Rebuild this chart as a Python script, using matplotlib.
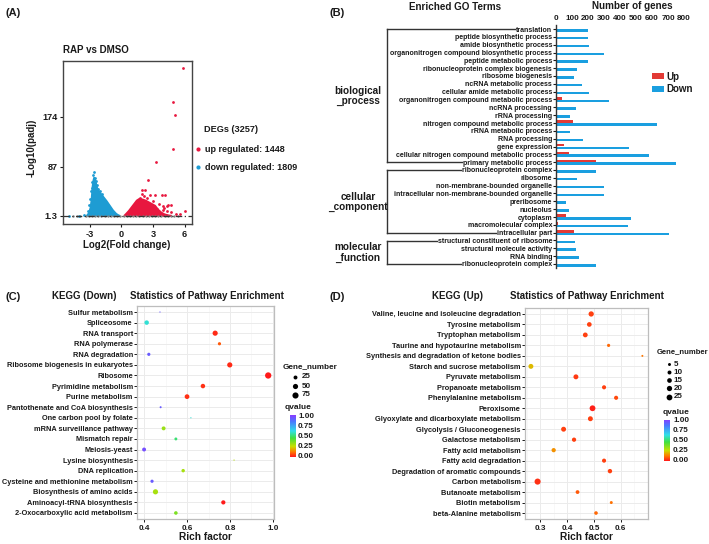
import numpy as np
import matplotlib
matplotlib.use('Agg')
import matplotlib.pyplot as plt
from matplotlib.colors import LinearSegmentedColormap
from matplotlib.patches import Polygon, Rectangle
from matplotlib.lines import Line2D

plt.rcParams['font.family'] = ['Liberation Sans', 'DejaVu Sans']
plt.rcParams['font.weight'] = 'bold'

# ---------------- DATA ----------------
# (A) volcano: dense clouds as outlines, plus individual points
down_cloud_x = [-3.3, -3.1, -2.95, -2.85, -2.8, -2.75, -2.68, -2.6, -2.5, -2.4, -2.3, -2.15,
                -2.0, -1.7, -1.4, -1.1, -0.8, -0.5, -0.3, -0.15]
down_cloud_y = [1.3, 6, 15, 28, 40, 52, 62, 68, 64, 57, 50, 45, 41, 34, 27, 19, 11, 5, 2.5, 1.3]
up_cloud_x = [0.25, 0.45, 0.7, 0.95, 1.2, 1.45, 1.7, 2.0, 2.3, 2.6, 2.9, 3.2, 3.5, 3.8, 4.1, 4.5, 4.8]
up_cloud_y = [1.3, 5, 10, 16, 22, 28, 31, 30, 28, 25, 22, 19, 12, 7, 4, 2, 1.3]
down_x = [-2.62, -2.7, -2.55, -2.75, -2.45, -2.9, -3.0, -2.35, -2.2, -3.1, -5.0, -3.6, -4.0,
          -2.0, -1.8, -2.8, -2.5, -3.2, -2.65]
down_y = [78, 72, 68, 60, 62, 45, 30, 55, 48, 20, 1.3, 2.0, 1.5, 44, 39, 50, 58, 10, 66]
up_x = [5.87, 4.86, 5.11, 4.86, 3.27, 2.54, 1.94, 1.94, 2.26, 2.68, 3.23, 3.81, 4.46, 3.91,
        3.97, 3.39, 6.05, 4.7, 5.2, 4.3, 2.1, 1.8, 2.45, 3.0, 3.6, 4.0, 5.6, 4.12, 4.73, 4.29]
up_y = [258, 199, 177, 117, 95, 64, 46, 39, 47, 38, 38, 37, 20, 19, 12, 12.3, 9, 8, 5, 9,
        35, 33, 33, 27, 22, 15, 4, 38, 20, 18]
ns_x = [-4.6, -4.2, -3.9, -3.4, -3.1, -2.8, -2.5, -2.2, -1.9, -1.6, -1.3, -1.0, -0.7, -0.4,
        -0.1, 0.2, 0.5, 0.8, 1.1, 1.4, 1.7, 2.0, 2.3, 2.6, 2.9, 3.2, 3.5, 3.8, 4.1, 4.4, 4.7,
        5.0, 5.4]
ns_y = [0.5, 0.8, 0.3, 1.0, 0.6, 0.9, 0.4, 1.1, 0.7, 0.2, 0.9, 0.5, 1.0, 0.3, 0.8, 0.6, 1.1,
        0.4, 0.9, 0.2, 0.7, 1.0, 0.5, 0.8, 0.3, 1.1, 0.6, 0.4, 0.9, 0.7, 0.5, 0.3, 0.8]
volcano_xticks = [-3, 0, 3, 6]
volcano_yticks = [1.3, 87, 174]
volcano_yticklabels = ['1.3', '87', '174']
n_up, n_down = 1448, 1809

# (B) GO enrichment
go_terms = ['translation', 'peptide biosynthetic process', 'amide biosynthetic process',
            'organonitrogen compound biosynthetic process', 'peptide metabolic process',
            'ribonucleoprotein complex biogenesis', 'ribosome biogenesis',
            'ncRNA metabolic process', 'cellular amide metabolic process',
            'organonitrogen compound metabolic process', 'ncRNA processing', 'rRNA processing',
            'nitrogen compound metabolic process', 'rRNA metabolic process', 'RNA processing',
            'gene expression', 'cellular nitrogen compound metabolic process',
            'primary metabolic process',
            'ribonucleoprotein complex', 'ribosome', 'non-membrane-bounded organelle',
            'intracellular non-membrane-bounded organelle', 'preribosome', 'nucleolus',
            'cytoplasm', 'macromolecular complex', 'intracellular part',
            'structural constituent of ribosome', 'structural molecule activity',
            'RNA binding', 'ribonucleoprotein complex']
go_down = [198, 198, 205, 303, 200, 132, 115, 160, 207, 333, 124, 85, 629, 85, 166, 459, 582,
           749, 252, 130, 299, 299, 60, 79, 471, 448, 704, 117, 128, 143, 252]
go_up = [0, 0, 0, 5, 0, 0, 0, 0, 0, 36, 0, 0, 105, 0, 0, 49, 81, 252,
         0, 0, 0, 0, 0, 0, 62, 13, 111, 0, 0, 0, 0]
go_groups = [('biological\n_process', 0, 17), ('cellular\n_component', 18, 26),
             ('molecular\n_function', 27, 30)]
go_xticks = [0, 100, 200, 300, 400, 500, 600, 700, 800]

# (C) KEGG down
kc_terms = ['Sulfur metabolism', 'Spliceosome', 'RNA transport', 'RNA polymerase',
            'RNA degradation', 'Ribosome biogenesis in eukaryotes', 'Ribosome',
            'Pyrimidine metabolism', 'Purine metabolism', 'Pantothenate and CoA biosynthesis',
            'One carbon pool by folate', 'mRNA surveillance pathway', 'Mismatch repair',
            'Meiosis-yeast', 'Lysine biosynthesis', 'DNA replication',
            'Cysteine and methionine metabolism', 'Biosynthesis of amino acids',
            'Aminoacyl-tRNA biosynthesis', '2-Oxocarboxylic acid metabolism']
kc_rich = [0.474, 0.412, 0.731, 0.751, 0.422, 0.799, 0.978, 0.674, 0.600, 0.477, 0.618, 0.491,
           0.548, 0.400, 0.819, 0.582, 0.437, 0.453, 0.769, 0.548]
kc_q = [0.92, 0.60, 0.02, 0.08, 0.92, 0.02, 0.0, 0.03, 0.03, 0.92, 0.60, 0.32, 0.50, 0.95,
        0.28, 0.30, 0.92, 0.30, 0.0, 0.36]
kc_count = [3, 35, 50, 15, 15, 50, 80, 35, 40, 5, 3, 25, 12, 25, 3, 18, 15, 50, 30, 20]
kc_xticks = [0.4, 0.6, 0.8, 1.0]
kc_size_breaks = [25, 50, 75]

# (D) KEGG up
kd_terms = ['Valine, leucine and isoleucine degradation', 'Tyrosine metabolism',
            'Tryptophan metabolism', 'Taurine and hypotaurine metabolism',
            'Synthesis and degradation of ketone bodies', 'Starch and sucrose metabolism',
            'Pyruvate metabolism', 'Propanoate metabolism', 'Phenylalanine metabolism',
            'Peroxisome', 'Glyoxylate and dicarboxylate metabolism',
            'Glycolysis / Gluconeogenesis', 'Galactose metabolism', 'Fatty acid metabolism',
            'Fatty acid degradation', 'Degradation of aromatic compounds', 'Carbon metabolism',
            'Butanoate metabolism', 'Biotin metabolism', 'beta-Alanine metabolism']
kd_rich = [0.490, 0.483, 0.468, 0.555, 0.681, 0.265, 0.433, 0.538, 0.583, 0.495, 0.487, 0.387,
           0.426, 0.350, 0.538, 0.560, 0.290, 0.439, 0.565, 0.508]
kd_q = [0.05, 0.05, 0.05, 0.10, 0.12, 0.20, 0.04, 0.05, 0.06, 0.01, 0.05, 0.05, 0.05, 0.15,
        0.05, 0.05, 0.03, 0.08, 0.11, 0.10]
kd_count = [20, 15, 16, 6, 2, 17, 17, 11, 11, 25, 17, 17, 12, 12, 11, 13, 28, 9, 5, 8]
kd_xticks = [0.3, 0.4, 0.5, 0.6]
kd_size_breaks = [5, 10, 15, 20, 25]

# ---------------- STYLE / LAYOUT ----------------
W, H = 709, 544
fig = plt.figure(figsize=(W / 100, H / 100), dpi=100)

def fx(px): return px / W
def fy(py): return 1 - py / H
def box(l, t, r, b): return [fx(l), fy(b), (r - l) / W, (b - t) / H]

RED_V = '#E8173F'
BLUE_V = '#1E9CD3'
RED_B = '#E23A35'
BLUE_B = '#1A9FE0'
GRID = '#EBEBEB'
cmap = LinearSegmentedColormap.from_list('q', [
    (0.0, '#FF1A1A'), (0.12, '#FF7A00'), (0.25, '#C8E000'), (0.45, '#40E040'),
    (0.62, '#30E0E8'), (0.85, '#4A78FF'), (1.0, '#8A3CFF')])

def size_pts(counts, nmin, nmax, dmin, dmax):
    c = np.asarray(counts, float)
    d = dmin + (dmax - dmin) * np.sqrt(np.clip((c - nmin) / (nmax - nmin), 0, 1))
    return (d * 0.72) ** 2

# overlay in pixel coordinates for legends / decorations
ov = fig.add_axes([0, 0, 1, 1], zorder=10)
ov.set_xlim(0, W); ov.set_ylim(H, 0); ov.axis('off'); ov.patch.set_alpha(0)

def T(x, y, s, size, **kw):
    kw.setdefault('ha', 'left'); kw.setdefault('va', 'center')
    ov.text(x, y, s, fontsize=size, fontweight='bold', color='#1A1A1A', **kw)

# panel letters
T(6, 13, '(A)', 8)
T(329, 13, '(B)', 8)
T(6, 297, '(C)', 8)
T(329, 297, '(D)', 8)

# ---------------- (A) ----------------
axA = fig.add_axes(box(63, 61, 192, 224))
axA.add_patch(Polygon(list(zip(down_cloud_x, down_cloud_y)), closed=True, fc=BLUE_V,
                      ec=BLUE_V, lw=1.2, zorder=2))
axA.add_patch(Polygon(list(zip(up_cloud_x, up_cloud_y)), closed=True, fc=RED_V,
                      ec=RED_V, lw=1.2, zorder=2))
axA.scatter(ns_x, ns_y, s=3, c='#808080', lw=0, zorder=2)
axA.scatter(down_x, down_y, s=4, c=BLUE_V, lw=0, zorder=3)
axA.scatter(up_x, up_y, s=4, c=RED_V, lw=0, zorder=3)
axA.axhline(1.3, color='#333333', lw=0.9, ls=(0, (5, 2, 1, 2)), zorder=4)
axA.set_xlim(-5.55, 6.7)
axA.set_ylim(-13, 271)
axA.set_xticks(volcano_xticks)
axA.set_xticklabels([str(v) for v in volcano_xticks])
axA.set_yticks(volcano_yticks)
axA.set_yticklabels(volcano_yticklabels)
for s in axA.spines.values():
    s.set_color('#444444'); s.set_linewidth(1.0)
axA.tick_params(length=2.5, width=0.8, labelsize=6.6, pad=1.5, colors='#1A1A1A')
T(63, 50, 'RAP vs DMSO', 7)
T(32, 148, '-Log10(padj)', 7, ha='center', rotation=90)
T(127, 245, 'Log2(Fold change)', 7, ha='center')
T(204, 130, 'DEGs (3257)', 6.6)
ov.scatter([197.7], [149], s=9, c=RED_V, lw=0)
ov.scatter([197.7], [166.7], s=9, c=BLUE_V, lw=0)
T(205, 149, f'up regulated: {n_up}', 6.5)
T(205, 167, f'down regulated: {n_down}', 6.5)

# ---------------- (B) ----------------
nB = len(go_terms)
row0, rowN = 29.0, 264.0
step = (rowN - row0) / (nB - 1)
axB = fig.add_axes(box(556, row0 - step / 2, 684, rowN + step / 2))
yB = np.arange(nB)
axB.barh(yB - 0.165, go_up, height=0.33, color=RED_B, lw=0)
axB.barh(yB + 0.165, go_down, height=0.33, color=BLUE_B, lw=0)
axB.set_ylim(nB - 0.5, -0.5)
axB.set_xlim(0, 800)
axB.xaxis.tick_top()
axB.set_xticks(go_xticks)
axB.set_xticklabels([str(v) for v in go_xticks])
axB.tick_params(axis='x', length=0, labelsize=5.8, pad=2.5, colors='#1A1A1A')
axB.set_yticks(yB)
axB.set_yticklabels(go_terms)
axB.tick_params(axis='y', length=2, width=0.8, labelsize=5.0, pad=0.8, colors='#1A1A1A')
for k in ['top', 'right', 'bottom']:
    axB.spines[k].set_visible(False)
axB.spines['left'].set_color('#333333'); axB.spines['left'].set_linewidth(1.0)
axB.patch.set_alpha(0)
T(455, 7.5, 'Enriched GO Terms', 7.1, ha='center')
T(632, 5.8, 'Number of genes', 7.1, ha='center')
ov.add_patch(Rectangle((651.7, 73.3), 12.3, 5.4, fc=RED_B, lw=0))
ov.add_patch(Rectangle((651.7, 86.0), 12.3, 5.6, fc=BLUE_B, lw=0))
T(666.5, 76.5, 'Up', 7)
T(666.5, 89, 'Down', 7)

# ---------------- (C) / (D) ----------------
def kegg_panel(rect, terms, rich, q, counts, xlim, xticks, minor, nmin, nmax, dmin, dmax):
    ax = fig.add_axes(rect)
    n = len(terms)
    y = np.arange(n)
    ax.set_axisbelow(True)
    ax.scatter(rich, y, s=size_pts(counts, nmin, nmax, dmin, dmax), c=q, cmap=cmap,
               vmin=0, vmax=1, lw=0, zorder=3)
    ax.set_ylim(n - 1 + 0.57, -0.57)
    ax.set_xlim(*xlim)
    ax.set_xticks(xticks)
    ax.set_xticklabels([f'{v:.1f}' for v in xticks])
    ax.set_xticks(minor, minor=True)
    ax.set_yticks(y)
    ax.set_yticklabels(terms)
    ax.grid(True, which='major', color=GRID, lw=0.7)
    ax.grid(True, which='minor', axis='x', color='#F4F4F4', lw=0.4)
    ax.tick_params(which='minor', length=0)
    ax.tick_params(axis='y', length=2, width=0.7, labelsize=5.35, pad=1, colors='#1A1A1A')
    ax.tick_params(axis='x', length=2, width=0.7, labelsize=5.9, pad=2, colors='#1A1A1A')
    for s in ax.spines.values():
        s.set_color('#BDBDBD'); s.set_linewidth(0.9)
    return ax

def cbar(l, t, r, b):
    cax = fig.add_axes(box(l, t, r, b))
    cax.imshow(np.linspace(1, 0, 200)[:, None], aspect='auto', cmap=cmap, vmin=0, vmax=1,
               extent=[0, 1, 0, 1])
    cax.set_xticks([]); cax.set_yticks([])
    for s in cax.spines.values():
        s.set_visible(False)
    return cax

kegg_panel(box(137, 306, 274, 519), kc_terms, kc_rich, kc_q, kc_count,
           (0.367, 1.005), kc_xticks, [0.5, 0.7, 0.9], 3, 80, 1.2, 6.3)
T(205.5, 537.5, 'Rich factor', 7.3, ha='center')
T(84, 296, 'KEGG (Down)', 7, ha='center')
T(207, 296, 'Statistics of Pathway Enrichment', 7, ha='center')
T(283, 367, 'Gene_number', 5.9)
for yy, nb in zip([377, 386, 394.5], kc_size_breaks):
    ov.scatter([295], [yy], s=size_pts([nb], 3, 80, 1.2, 6.3), c='black', lw=0)
    T(301.5, yy, str(nb), 5.8)
T(285, 407.5, 'qvalue', 6)
cbar(290, 415, 295.5, 457)
for v, yy in zip([1.0, 0.75, 0.5, 0.25, 0.0], np.linspace(417, 456, 5)):
    T(298, yy, f'{v:.2f}', 5.8)

kegg_panel(box(525, 308, 648, 519), kd_terms, kd_rich, kd_q, kd_count,
           (0.243, 0.702), kd_xticks, [0.25, 0.35, 0.45, 0.55, 0.65], 1, 28, 1.0, 6.1)
T(586.5, 537.5, 'Rich factor', 7.3, ha='center')
T(457, 296, 'KEGG (Up)', 7, ha='center')
T(587, 296, 'Statistics of Pathway Enrichment', 7, ha='center')
T(656.5, 352, 'Gene_number', 5.5)
for yy, nb in zip([364, 372, 380, 388, 396.5], kd_size_breaks):
    ov.scatter([669], [yy], s=size_pts([nb], 1, 28, 1.0, 6.1), c='black', lw=0)
    T(673.5, yy, str(nb), 5.8)
T(663, 412.5, 'qvalue', 6)
cbar(664, 420, 670, 461)
for v, yy in zip([1.0, 0.75, 0.5, 0.25, 0.0], np.linspace(421, 460, 5)):
    T(673, yy, f'{v:.2f}', 5.8)

# ---------------- (B) brackets ----------------
fig.canvas.draw()
renderer = fig.canvas.get_renderer()
labels = axB.get_yticklabels()
XB = 387
def row_y(i): return row0 + i * step
for name, i0, i1 in go_groups:
    x0 = labels[i0].get_window_extent(renderer).x0
    x1 = labels[i1].get_window_extent(renderer).x0
    ov.add_line(Line2D([XB, XB], [row_y(i0), row_y(i1)], color='#333333', lw=1.0))
    ov.add_line(Line2D([XB, x0 - 1], [row_y(i0), row_y(i0)], color='#333333', lw=1.0))
    ov.add_line(Line2D([XB, x1 - 1], [row_y(i1), row_y(i1)], color='#333333', lw=1.0))
    T(358, (row_y(i0) + row_y(i1)) / 2 + 0.5, name, 7.2, ha='center', multialignment='center',
      linespacing=1.05)

fig.savefig('out.png', dpi=100)
